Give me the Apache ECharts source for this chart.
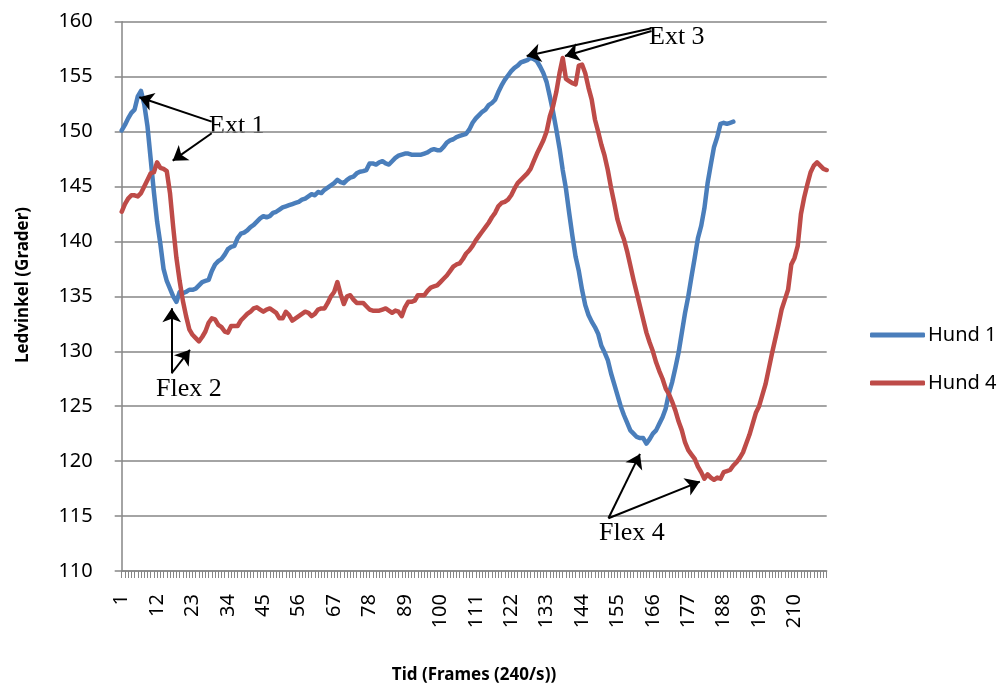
<!DOCTYPE html>
<html>
<head>
<meta charset="utf-8">
<script src="https://cdn.jsdelivr.net/npm/echarts@6/dist/echarts.min.js"></script>
<style>
html,body{margin:0;padding:0;background:#fff;}
#chart{width:1005px;height:688px;}
</style>
</head>
<body>
<div id="chart"></div>
<script>
// ---- Data ----
const frames = Array.from({length: 220}, (_, i) => String(i + 1));

const hund1 = [
150.1,150.6,151.2,151.7,152.0,153.2,153.7,152.5,150.5,147.5,
144.5,141.8,139.8,137.5,136.4,135.7,135.0,134.5,135.4,135.3,
135.4,135.6,135.6,135.7,136.0,136.3,136.4,136.5,137.3,137.9,
138.2,138.4,138.8,139.3,139.5,139.6,140.3,140.7,140.8,141.0,
141.3,141.5,141.8,142.1,142.3,142.2,142.3,142.6,142.7,142.9,
143.1,143.2,143.3,143.4,143.5,143.6,143.8,143.9,144.1,144.3,
144.2,144.5,144.4,144.7,144.9,145.1,145.3,145.6,145.4,145.3,
145.6,145.8,145.9,146.2,146.35,146.4,146.5,147.1,147.1,147.0,
147.2,147.3,147.1,147.0,147.3,147.6,147.8,147.9,148.0,148.0,
147.9,147.9,147.9,147.9,148.0,148.1,148.3,148.4,148.3,148.3,
148.6,149.0,149.2,149.3,149.5,149.6,149.7,149.8,150.2,150.8,
151.2,151.5,151.8,152.0,152.4,152.6,152.9,153.6,154.2,154.7,
155.1,155.5,155.8,156.0,156.3,156.4,156.5,156.7,156.6,156.4,
155.9,155.3,154.5,153.2,151.8,150.2,148.5,146.5,144.8,142.6,
140.5,138.6,137.3,135.6,134.2,133.3,132.7,132.2,131.6,130.5,
129.9,129.2,128.0,127.0,126.0,125.0,124.2,123.5,122.8,122.5,
122.2,122.1,122.1,121.6,122.0,122.5,122.8,123.4,124.0,124.8,
126.2,127.2,128.5,129.9,131.7,133.5,135.0,136.8,138.5,140.3,
141.4,143.0,145.3,147.0,148.6,149.5,150.7,150.8,150.7,150.8,
150.9
];

const hund4 = [
142.7,143.4,143.9,144.2,144.2,144.1,144.4,145.0,145.6,146.2,
146.3,147.2,146.7,146.6,146.4,144.4,141.3,138.5,136.4,134.6,
133.2,132.0,131.5,131.2,130.9,131.3,131.8,132.6,133.0,132.9,
132.4,132.2,131.8,131.7,132.3,132.3,132.3,132.8,133.1,133.4,
133.6,133.9,134.0,133.8,133.6,133.8,133.9,133.7,133.5,133.0,
133.0,133.6,133.3,132.8,133.0,133.2,133.4,133.6,133.5,133.2,
133.4,133.8,133.9,133.9,134.4,135.0,135.4,136.3,135.2,134.3,
135.0,135.1,134.7,134.4,134.4,134.4,134.1,133.8,133.7,133.7,
133.7,133.8,133.9,133.7,133.5,133.7,133.6,133.2,134.0,134.5,
134.5,134.6,135.1,135.1,135.1,135.5,135.8,135.9,136.0,136.3,
136.6,136.9,137.3,137.7,137.9,138.0,138.4,138.9,139.2,139.6,
140.1,140.5,140.9,141.3,141.7,142.2,142.6,143.2,143.5,143.6,
143.8,144.2,144.8,145.3,145.6,145.9,146.2,146.6,147.3,148.0,
148.6,149.2,150.0,151.4,152.3,153.6,155.3,156.7,154.8,154.6,
154.4,154.3,156.0,156.1,155.3,154.0,152.9,151.1,150.0,148.8,
147.8,146.5,144.9,143.5,142.0,141.0,140.2,139.1,137.8,136.5,
135.3,134.1,132.9,131.7,130.8,130.0,129.0,128.2,127.5,126.6,
126.1,125.4,124.6,123.6,122.8,121.7,121.0,120.6,120.2,119.5,
119.0,118.4,118.8,118.5,118.3,118.5,118.4,119.0,119.1,119.2,
119.6,119.9,120.3,120.8,121.6,122.4,123.4,124.4,125.0,126.0,
127.0,128.4,129.8,131.1,132.4,133.8,134.7,135.6,137.9,138.5,
139.6,142.5,144.0,145.2,146.3,146.9,147.2,146.9,146.6,146.5
];

const yTicks = {min: 110, max: 160, step: 5};

// annotation arrows: [startIndex, startValue, tipIndex, tipValue]
const arrows = [
  [27.96, 150.9, 5.47, 153.12],
  [27.96, 149.85, 15.84, 147.35],
  [164.6, 159.4, 125.8, 156.88],
  [164.6, 159.15, 137.7, 156.88],
  [15.53, 128.0, 15.53, 133.92],
  [15.53, 128.0, 21.2, 130.13],
  [151.2, 114.8, 161.0, 120.66],
  [151.2, 114.8, 179.6, 118.14]
];
const notes = ['Ext 1', 'Ext 3', 'Flex 2', 'Flex 4'];

// ---- Chart ----
const chart = echarts.init(document.getElementById('chart'), null, {renderer: 'canvas'});
const gray = '#868686';
const labelFont = 'Noto Sans';

const option = {
  animation: false,
  backgroundColor: '#fff',
  grid: {left: 121.7, right: 178.3, top: 21.7, bottom: 117, containLabel: false},
  xAxis: [{
    type: 'category',
    data: frames,
    boundaryGap: false,
    axisLine: {show: true, lineStyle: {color: gray, width: 1.5}},
    axisTick: {show: true, interval: 0, length: 7, lineStyle: {color: gray, width: 1}},
    axisLabel: {interval: 10, rotate: 90, margin: 23, color: '#000', fontSize: 20, fontFamily: labelFont},
    splitLine: {show: false}
  }, {
    type: 'value', min: 0, max: 219, show: false
  }],
  yAxis: {
    type: 'value',
    min: yTicks.min, max: yTicks.max, interval: yTicks.step,
    axisLine: {show: true, lineStyle: {color: gray, width: 1.5}},
    axisTick: {show: true, length: 7, lineStyle: {color: gray, width: 1.5}},
    axisLabel: {color: '#000', fontSize: 20, fontFamily: labelFont, margin: 29},
    splitLine: {show: true, lineStyle: {color: gray, width: 1.5}}
  },
  legend: {
    orient: 'vertical',
    left: 865, top: 320,
    itemWidth: 55, itemHeight: 5, itemGap: 28,
    icon: 'roundRect',
    textStyle: {color: '#000', fontSize: 20, fontFamily: labelFont, padding: [0,0,0,-2]},
    data: ['Hund 1', 'Hund 4']
  },
  series: [
    {
      name: 'Hund 1', type: 'line', data: hund1, showSymbol: false, symbol: 'none',
      lineStyle: {color: '#4A7EBB', width: 4.5, cap: 'round', join: 'round'},
      itemStyle: {color: '#4A7EBB'}
    },
    {
      name: 'Hund 4', type: 'line', data: hund4, showSymbol: false, symbol: 'none',
      lineStyle: {color: '#BE4B48', width: 4.5, cap: 'round', join: 'round'},
      itemStyle: {color: '#BE4B48'}
    },
    {
      name: 'annotations', type: 'line', xAxisIndex: 1, data: [], silent: true,
      markLine: {
        silent: true,
        symbol: ['none', 'arrow'],
        symbolSize: 14,
        label: {show: false},
        lineStyle: {color: '#000', width: 2, type: 'solid'},
        emphasis: {disabled: true},
        data: arrows.map(a => [{coord: [a[0], a[1]]}, {coord: [a[2], a[3]]}])
      }
    }
  ],
  graphic: [
    {type: 'text', left: 209, top: 113, style: {text: notes[0], font: '26px "Liberation Serif"', fill: '#000'}},
    {type: 'text', left: 649, top: 24, style: {text: notes[1], font: '26px "Liberation Serif"', fill: '#000'}},
    {type: 'text', left: 156, top: 376, style: {text: notes[2], font: '26px "Liberation Serif"', fill: '#000'}},
    {type: 'text', left: 599, top: 520, style: {text: notes[3], font: '26px "Liberation Serif"', fill: '#000'}},
    {type: 'text', x: 23, y: 285, rotation: Math.PI / 2,
      style: {text: 'Ledvinkel (Grader)', font: 'bold 17px "Noto Sans"', fill: '#000', align: 'center', verticalAlign: 'middle'}},
    {type: 'text', x: 474, y: 675,
      style: {text: 'Tid (Frames (240/s))', font: 'bold 17px "Noto Sans"', fill: '#000', align: 'center', verticalAlign: 'middle'}}
  ]
};
chart.setOption(option);
</script>
</body>
</html>
